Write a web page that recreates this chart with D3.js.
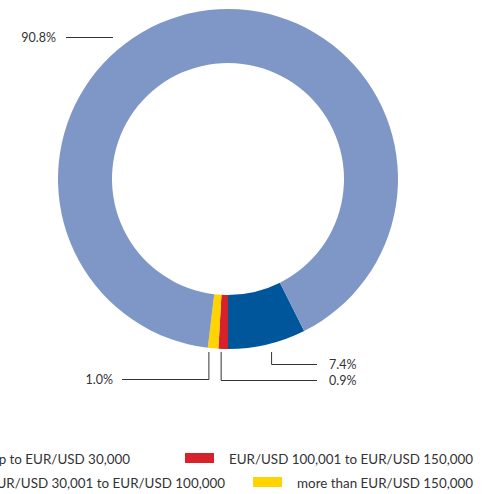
<!DOCTYPE html>
<html>
<head>
<meta charset="utf-8">
<script src="https://cdn.jsdelivr.net/npm/d3@7"></script>
<style>
  body { margin: 0; background: #fff; overflow: hidden; }
  text { font-family: Lato, "Open Sans", sans-serif; fill: #333; }
</style>
</head>
<body>
<div id="chart"></div>
<script>
// slices, clockwise from the right side of the ring
const categories = [
  'EUR/USD 30,001 to EUR/USD 100,000',
  'EUR/USD 100,001 to EUR/USD 150,000',
  'more than EUR/USD 150,000',
  'up to EUR/USD 30,000'
];
const values = [7.4, 0.9, 1.0, 90.8];
const valueLabels = ['7.4%', '0.9%', '1.0%', '90.8%'];
const colors = ['#00569a', '#d7222b', '#ffd400', '#7f97c6'];

// legend rows: [left item, right item]
const legendRows = [[3, 1], [0, 2]];

const width = 485, height = 494;
const cx = 228, cy = 179, outerR = 170, innerR = 116;

const svg = d3.select('#chart')
  .append('svg')
    .attr('width', width)
    .attr('height', height);

const startA = Math.PI - values[0] / d3.sum(values) * 2 * Math.PI;

const pie = d3.pie()
  .sort(null)
  .value(d => d)
  .startAngle(startA)
  .endAngle(startA + 2 * Math.PI);

const arcs = pie(values);

const arc = d3.arc()
  .innerRadius(innerR)
  .outerRadius(outerR);

const g = svg.append('g')
  .attr('transform', `translate(${cx},${cy})`);

g.selectAll('path')
  .data(arcs)
  .join('path')
    .attr('d', arc)
    .attr('fill', (d, i) => colors[i]);

// leader lines
const midX = d => cx + (outerR + 2) * Math.sin((d.startAngle + d.endAngle) / 2);
const y0 = cy + outerR + 3;

const leaders = [
  { i: 0, x: midX(arcs[0]) + 4, y: 364.5, x2: 317, tx: 329, anchor: 'start' },
  { i: 1, x: midX(arcs[1]) - 2, y: 380.5, x2: 317, tx: 329, anchor: 'start' },
  { i: 2, x: midX(arcs[2]) - 4, y: 379.5, x2: 122, tx: 113, anchor: 'end' }
];

leaders.forEach(l => {
  svg.append('path')
    .attr('d', `M${l.x},${y0}V${l.y}H${l.x2}`)
    .attr('fill', 'none')
    .attr('stroke', '#333')
    .attr('stroke-width', 1);
  svg.append('text')
    .attr('x', l.tx)
    .attr('y', l.y + 4.5)
    .attr('text-anchor', l.anchor)
    .attr('font-size', '12.5px')
    .text(valueLabels[l.i]);
});

// big slice label
svg.append('line')
  .attr('x1', 66).attr('x2', 113)
  .attr('y1', 37.5).attr('y2', 37.5)
  .attr('stroke', '#333');
svg.append('text')
  .attr('x', 56)
  .attr('y', 42)
  .attr('text-anchor', 'end')
  .attr('font-size', '12.5px')
  .text(valueLabels[3]);

// legend: left column runs off the page edge, right column ends at 473
const rowY = [459, 483];
const leftEnd = [130, 225];
legendRows.forEach((row, r) => {
  const y = rowY[r];
  const lt = svg.append('text')
    .attr('x', leftEnd[r]).attr('y', y + 5)
    .attr('text-anchor', 'end')
    .attr('font-size', '13.4px')
    .text(categories[row[0]]);
  const lw = lt.node().getComputedTextLength();
  svg.append('rect')
    .attr('x', leftEnd[r] - lw - 15 - 29).attr('y', y - 6)
    .attr('width', 29).attr('height', 10)
    .attr('fill', colors[row[0]]);

  const t = svg.append('text')
    .attr('x', 473).attr('y', y + 5)
    .attr('text-anchor', 'end')
    .attr('font-size', '13.4px')
    .text(categories[row[1]]);
  const w = t.node().getComputedTextLength();
  svg.append('rect')
    .attr('x', 473 - w - 15 - 29).attr('y', y - 6)
    .attr('width', 29).attr('height', 10)
    .attr('fill', colors[row[1]]);
});
</script>
</body>
</html>
